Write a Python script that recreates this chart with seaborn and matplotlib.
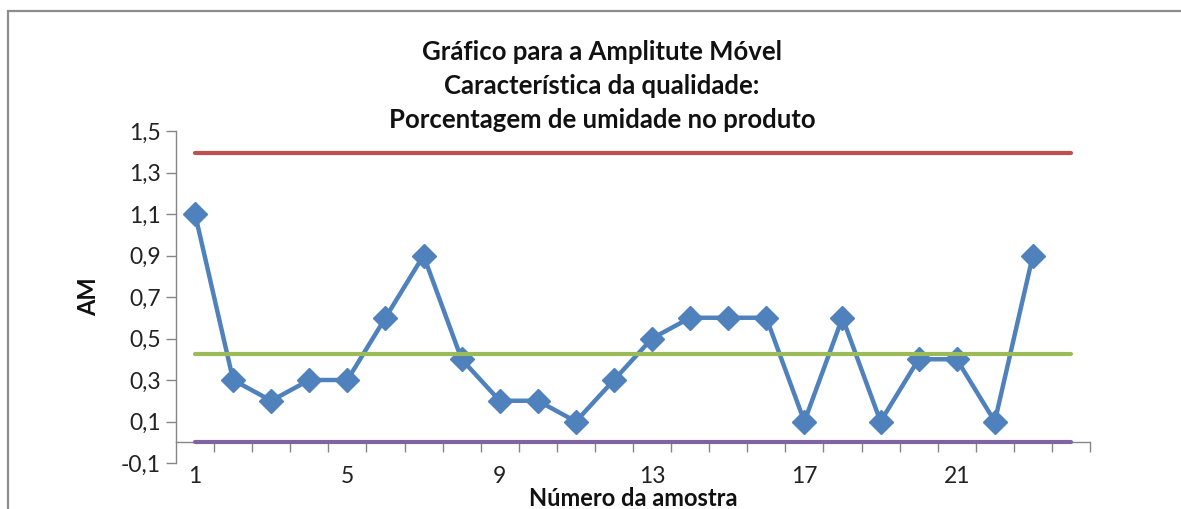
import matplotlib
matplotlib.use("Agg")
import matplotlib.pyplot as plt
import seaborn as sns
from matplotlib.patches import Rectangle
from matplotlib.ticker import FixedLocator, FuncFormatter, NullFormatter

# Amplitude móvel de cada amostra
amostras = list(range(1, 24))
amplitude = [1.1, 0.3, 0.2, 0.3, 0.3, 0.6, 0.9, 0.4, 0.2, 0.2, 0.1, 0.3,
             0.5, 0.6, 0.6, 0.6, 0.1, 0.6, 0.1, 0.4, 0.4, 0.1, 0.9]

# Limites de controle (LSC, LC, LIC) traçados de 1 a 24
limite_x = list(range(1, 25))
lsc = 1.392
lc = 0.426
lic = 0.0

rotulos_x = [1, 5, 9, 13, 17, 21]
rotulos_y = [-0.1, 0.1, 0.3, 0.5, 0.7, 0.9, 1.1, 1.3, 1.5]

sns.set_theme(style="white")
plt.rcParams['font.family'] = ['Lato', 'DejaVu Sans']

W, H = 1181, 509
fig = plt.figure(figsize=(W / 100, H / 100), dpi=100)
ax = fig.add_axes([176 / W, (H - 463) / H, (1090 - 176) / W, (463 - 131) / H])

azul = "#4F81BD"
sns.lineplot(x=amostras, y=amplitude, ax=ax, color=azul, linewidth=3.2,
             marker="D", markersize=12.5, markeredgecolor=azul,
             markeredgewidth=1, zorder=2)

for valor, cor in [(lsc, "#C0504D"), (lc, "#9BBB59"), (lic, "#8064A2")]:
    sns.lineplot(x=limite_x, y=[valor] * len(limite_x), ax=ax, color=cor,
                 linewidth=3, solid_capstyle="round", zorder=3)

ax.set_xlim(0.5, 24.5)
ax.set_ylim(-0.1, 1.5)

cinza = "#868686"
for lado in ["top", "right"]:
    ax.spines[lado].set_visible(False)
ax.spines["left"].set_color(cinza)
ax.spines["left"].set_linewidth(1)
ax.spines["bottom"].set_color(cinza)
ax.spines["bottom"].set_linewidth(1)
ax.spines["bottom"].set_position(("data", 0))
ax.spines["bottom"].set_zorder(1)

# Eixo X: marcas entre categorias, rótulos abaixo da área do gráfico
ax.xaxis.set_major_locator(FixedLocator([i + 0.5 for i in range(1, 25)]))
ax.xaxis.set_major_formatter(NullFormatter())
ax.xaxis.set_minor_locator(FixedLocator(rotulos_x))
ax.xaxis.set_minor_formatter(FuncFormatter(lambda v, p: f"{int(round(v))}"))
ax.tick_params(axis="x", which="major", direction="out", length=7,
               width=1, color=cinza, bottom=True)
ax.tick_params(axis="x", which="minor", length=0, pad=17,
               labelsize=16.5, labelcolor="#222222", bottom=True)

# Eixo Y com vírgula decimal
ax.yaxis.set_major_locator(FixedLocator(rotulos_y))
ax.yaxis.set_major_formatter(FuncFormatter(lambda v, p: f"{v:.1f}".replace(".", ",")))
ax.tick_params(axis="y", direction="out", length=7, width=1, color=cinza,
               left=True, labelsize=16.5, labelcolor="#222222", pad=4)

ax.set_ylabel("AM", fontsize=17, fontweight="bold", color="#111111")
ax.yaxis.set_label_coords(-0.096, 0.5)
ax.yaxis.label.set_verticalalignment("center")

ax.set_xlabel("Número da amostra", fontsize=17, fontweight="bold", color="#111111")
ax.xaxis.set_label_coords(0.5, (463 - 499) / 332)
ax.xaxis.label.set_verticalalignment("center")

titulo = ["Gráfico para a Amplitute Móvel",
          "Característica da qualidade:",
          "Porcentagem de umidade no produto"]
for i, linha in enumerate(titulo):
    fig.text(602 / W, 1 - (52 + 34 * i) / H, linha, ha="center", va="center",
             fontsize=18.5, fontweight="bold", color="#111111")

# Moldura da área do gráfico
fig.patches.append(Rectangle((8 / W, -0.2), 2, 1.2 - 11 / H,
                             transform=fig.transFigure, fill=False,
                             edgecolor="#8c8c8c", linewidth=1.6))

fig.savefig("out.png", dpi=100)
